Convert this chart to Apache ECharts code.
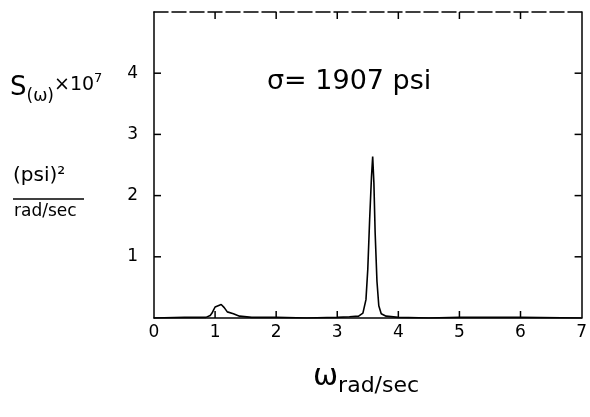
<!DOCTYPE html>
<html>
<head>
<meta charset="utf-8">
<script src="https://cdn.jsdelivr.net/npm/echarts@6/dist/echarts.min.js"></script>
<style>
  html, body { margin: 0; padding: 0; background: #fff; }
  #chart { width: 590px; height: 417px; }
</style>
</head>
<body>
<div id="chart"></div>
<script>
// omega (rad/sec) and spectral density S(omega) x 10^7
var omega = [0, 0.5, 0.85, 0.92, 0.95, 0.97, 1.0, 1.05, 1.1, 1.15, 1.2, 1.3, 1.4, 1.6, 2.0, 2.5, 3.0, 3.2, 3.35, 3.42, 3.47, 3.5, 3.53, 3.56, 3.58, 3.6, 3.62, 3.65, 3.68, 3.72, 3.8, 4.0, 4.5, 5.0, 6.0, 7.0]
var spectrum = [0, 0.01, 0.01, 0.04, 0.08, 0.12, 0.18, 0.2, 0.22, 0.17, 0.1, 0.07, 0.03, 0.01, 0.01, 0, 0.01, 0.02, 0.03, 0.08, 0.3, 0.8, 1.6, 2.3, 2.64, 2.2, 1.4, 0.6, 0.2, 0.07, 0.03, 0.01, 0, 0.01, 0.01, 0]
var xTicks = [0, 1, 2, 3, 4, 5, 6, 7]
var yTicks = [1, 2, 3, 4]

var font = 'DejaVu Sans'
var xMax = 7
var yMax = 5
var myChart = echarts.init(document.getElementById('chart'))

var labels = [
  {
    type: 'text', left: 10, top: 72,
    style: {
      text: '{b|S}{s|(ω)}{x|×10}{p|7}',
      rich: {
        b: { fontFamily: font, fontSize: 26, fill: '#000' },
        s: { fontFamily: font, fontSize: 17, fill: '#000', padding: [16, 0, 0, 0] },
        x: { fontFamily: font, fontSize: 19, fill: '#000', padding: [0, 0, 6, 0] },
        p: { fontFamily: font, fontSize: 13, fill: '#000', padding: [0, 0, 20, 0] }
      }
    }
  },
  {
    type: 'text', left: 13, top: 166,
    style: { text: '(psi)²', fontFamily: font, fontSize: 20, fill: '#000' }
  },
  {
    type: 'line', shape: { x1: 13, y1: 199, x2: 84, y2: 199 },
    style: { stroke: '#000', lineWidth: 1.3 }
  },
  {
    type: 'text', left: 14, top: 203,
    style: { text: 'rad/sec', fontFamily: font, fontSize: 17, fill: '#000' }
  },
  {
    type: 'text', left: 267, top: 68,
    style: { text: 'σ= 1907 psi', fontFamily: font, fontSize: 27, fill: '#000' }
  },
  {
    type: 'text', left: 313, top: 362,
    style: {
      text: '{w|ω}{r|rad/sec}',
      rich: {
        w: { fontFamily: font, fontSize: 30, fill: '#000' },
        r: { fontFamily: font, fontSize: 22, fill: '#000', padding: [18, 0, 0, 0] }
      }
    }
  }
]

var option = {
  animation: false,
  grid: { left: 154, right: 3, top: 12, bottom: 99 },
  xAxis: [
    {
      type: 'value', min: 0, max: xMax, interval: 1,
      axisLine: { show: true, onZero: false, lineStyle: { color: '#000', width: 1.5 } },
      axisTick: { show: false },
      axisLabel: {
        color: '#000', fontFamily: font, fontSize: 17, margin: 6,
        formatter: function (v) { return xTicks.indexOf(v) >= 0 ? String(v) : '' }
      },
      splitLine: { show: false }
    },
    {
      type: 'value', position: 'top', min: 0, max: xMax, interval: 1,
      axisLine: { show: true, onZero: false, lineStyle: { color: '#000', width: 1.5, type: [14, 4] } },
      axisTick: { show: false },
      axisLabel: { show: false },
      splitLine: { show: false }
    }
  ],
  yAxis: [
    {
      type: 'value', min: 0, max: yMax, interval: 1,
      axisLine: { show: true, onZero: false, lineStyle: { color: '#000', width: 1.5 } },
      axisTick: { show: false },
      axisLabel: {
        color: '#000', fontFamily: font, fontSize: 17, margin: 16,
        formatter: function (v) { return yTicks.indexOf(v) >= 0 ? String(v) : '' }
      },
      splitLine: { show: false }
    },
    {
      type: 'value', position: 'right', min: 0, max: yMax, interval: 1,
      axisLine: { show: true, onZero: false, lineStyle: { color: '#000', width: 1.5 } },
      axisTick: { show: false },
      axisLabel: { show: false },
      splitLine: { show: false }
    }
  ],
  series: [
    {
      type: 'line',
      data: omega.map(function (w, i) { return [w, spectrum[i]] }),
      showSymbol: false,
      lineStyle: { color: '#000', width: 1.6 }
    }
  ],
  graphic: labels
}

myChart.setOption(option)

// inward ticks on all four sides, placed through the chart's own scales
var ticks = []
function tickLine (x1, y1, x2, y2) {
  ticks.push({ type: 'line', shape: { x1: x1, y1: y1, x2: x2, y2: y2 }, style: { stroke: '#000', lineWidth: 1.5 } })
}
xTicks.forEach(function (v) {
  if (v === 0 || v === xMax) return
  var b = myChart.convertToPixel({ gridIndex: 0 }, [v, 0])
  var t = myChart.convertToPixel({ gridIndex: 0 }, [v, yMax])
  tickLine(b[0], b[1], b[0], b[1] - 7)
  tickLine(t[0], t[1], t[0], t[1] + 7)
})
yTicks.forEach(function (v) {
  var l = myChart.convertToPixel({ gridIndex: 0 }, [0, v])
  var r = myChart.convertToPixel({ gridIndex: 0 }, [xMax, v])
  tickLine(l[0], l[1], l[0] + 7, l[1])
  tickLine(r[0], r[1], r[0] - 7, r[1])
})
myChart.setOption({ graphic: labels.concat(ticks) })
</script>
</body>
</html>
